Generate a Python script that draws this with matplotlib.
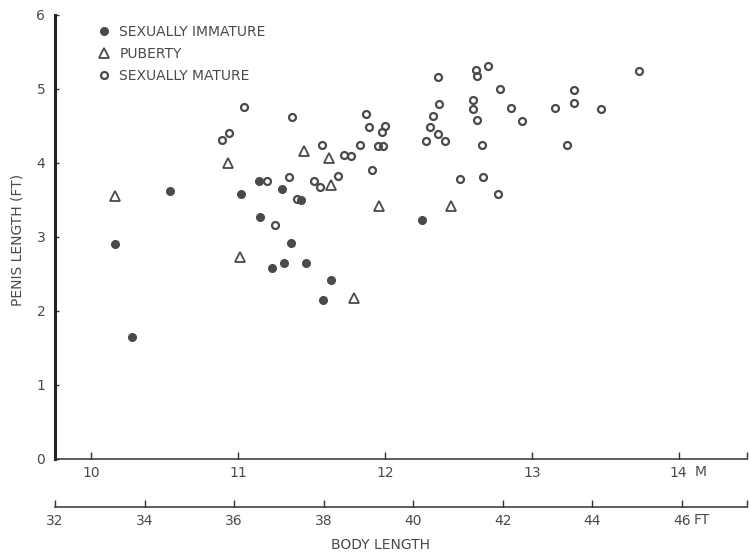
import numpy as np
import matplotlib
matplotlib.use("Agg")
import matplotlib.pyplot as plt

# body length (m) and penis length (ft)
immature_x = [10.16, 10.28, 10.54, 11.02, 11.145, 11.15, 11.23, 11.30, 11.31, 11.36,
              11.46, 11.43, 11.63, 11.58, 12.25]
immature_y = [2.90, 1.65, 3.62, 3.58, 3.76, 3.27, 2.58, 3.65, 2.65, 2.92,
              2.65, 3.50, 2.42, 2.15, 3.23]

puberty_x = [10.16, 10.93, 11.01, 11.45, 11.62, 11.63, 11.79, 11.96, 12.45]
puberty_y = [3.55, 4.00, 2.73, 4.16, 4.07, 3.70, 2.18, 3.42, 3.42]

mature_x = [10.89, 10.94, 11.04, 11.20, 11.25, 11.35, 11.37, 11.40, 11.52, 11.56,
            11.57, 11.68, 11.72, 11.77, 11.83, 11.87, 11.89, 11.91, 11.95, 11.99,
            11.98, 12.00, 12.28, 12.31, 12.33, 12.36, 12.36, 12.37, 12.41, 12.51,
            12.60, 12.60, 12.62, 12.63, 12.63, 12.66, 12.70, 12.77, 12.78, 12.86,
            12.93, 13.16, 13.24, 13.29, 13.29, 13.47, 13.73, 12.67]
mature_y = [4.31, 4.41, 4.76, 3.76, 3.16, 3.81, 4.62, 3.51, 3.76, 3.68,
            4.25, 3.82, 4.11, 4.09, 4.25, 4.66, 4.49, 3.90, 4.23, 4.23,
            4.42, 4.50, 4.30, 4.48, 4.64, 4.39, 5.16, 4.80, 4.30, 3.79,
            4.85, 4.73, 5.26, 5.17, 4.58, 4.25, 5.31, 3.58, 5.00, 4.75,
            4.57, 4.74, 4.24, 4.99, 4.81, 4.73, 5.25, 3.81]

m_ticks = [10, 11, 12, 13, 14]
ft_ticks = [32, 34, 36, 38, 40, 42, 44, 46]
y_ticks = [0, 1, 2, 3, 4, 5, 6]

FT_PER_M = 3.2808
ink = '#4a4a4a'
xmin, xmax = 32 / FT_PER_M, 14.465

fig = plt.figure(figsize=(7.5, 5.53), dpi=100)
ax = fig.add_axes([55 / 750, 1 - 459 / 553, 692 / 750, 444 / 553])

ax.plot(immature_x, immature_y, 'o', color=ink, ms=5.5, mec=ink, label='SEXUALLY IMMATURE')
ax.plot(puberty_x, puberty_y, '^', mfc='none', mec=ink, ms=7, mew=1.3, label='PUBERTY')
ax.plot(mature_x, mature_y, 'o', mfc='none', mec=ink, ms=5, mew=1.6, label='SEXUALLY MATURE')

ax.set_xlim(xmin, xmax)
ax.set_ylim(0, 6)

for s in ['top', 'right']:
    ax.spines[s].set_visible(False)
ax.spines['left'].set_linewidth(2.2)
ax.spines['left'].set_color('#222222')
ax.spines['bottom'].set_linewidth(1.1)
ax.spines['bottom'].set_color('#333333')

ax.set_xticks(m_ticks + [xmax])
ax.set_xticklabels([str(t) for t in m_ticks] + [''])
ax.set_yticks(y_ticks)
ax.tick_params(axis='x', direction='in', length=5, width=1, colors='#333333', pad=5,
               labelsize=10, labelcolor=ink)
ax.tick_params(axis='y', direction='in', length=3, width=1, colors='#333333', pad=7,
               labelsize=10, labelcolor=ink)

# feet scale below the metre scale
sec = ax.secondary_xaxis(-0.108, functions=(lambda x: x * FT_PER_M, lambda x: x / FT_PER_M))
sec.set_xticks(ft_ticks + [xmax * FT_PER_M])
sec.set_xticklabels([str(t) for t in ft_ticks] + [''])
sec.tick_params(axis='x', direction='in', length=5, width=1, colors='#333333', pad=5,
                labelsize=10, labelcolor=ink)
sec.spines['bottom'].set_linewidth(1.1)
sec.spines['bottom'].set_color('#333333')

ax.text(14.15, -0.029, 'M', transform=ax.get_xaxis_transform(), ha='center', va='center',
        fontsize=10, color=ink)
ax.text(14.16, -0.137, 'FT', transform=ax.get_xaxis_transform(), ha='center', va='center',
        fontsize=10, color=ink)

fig.text(380 / 750, 1 - 545 / 553, 'BODY LENGTH', ha='center', va='center', fontsize=10, color=ink)
fig.text(18 / 750, 1 - 240 / 553, 'PENIS LENGTH (FT)', ha='center', va='center', rotation=90,
         fontsize=10, color=ink)

ax.legend(loc='upper left', bbox_to_anchor=(0.043, 1.005), frameon=False, fontsize=10,
          handlelength=1, handletextpad=0.6, labelspacing=0.55, labelcolor=ink, borderpad=0.4)

fig.savefig('out.png', dpi=100, facecolor='white')
